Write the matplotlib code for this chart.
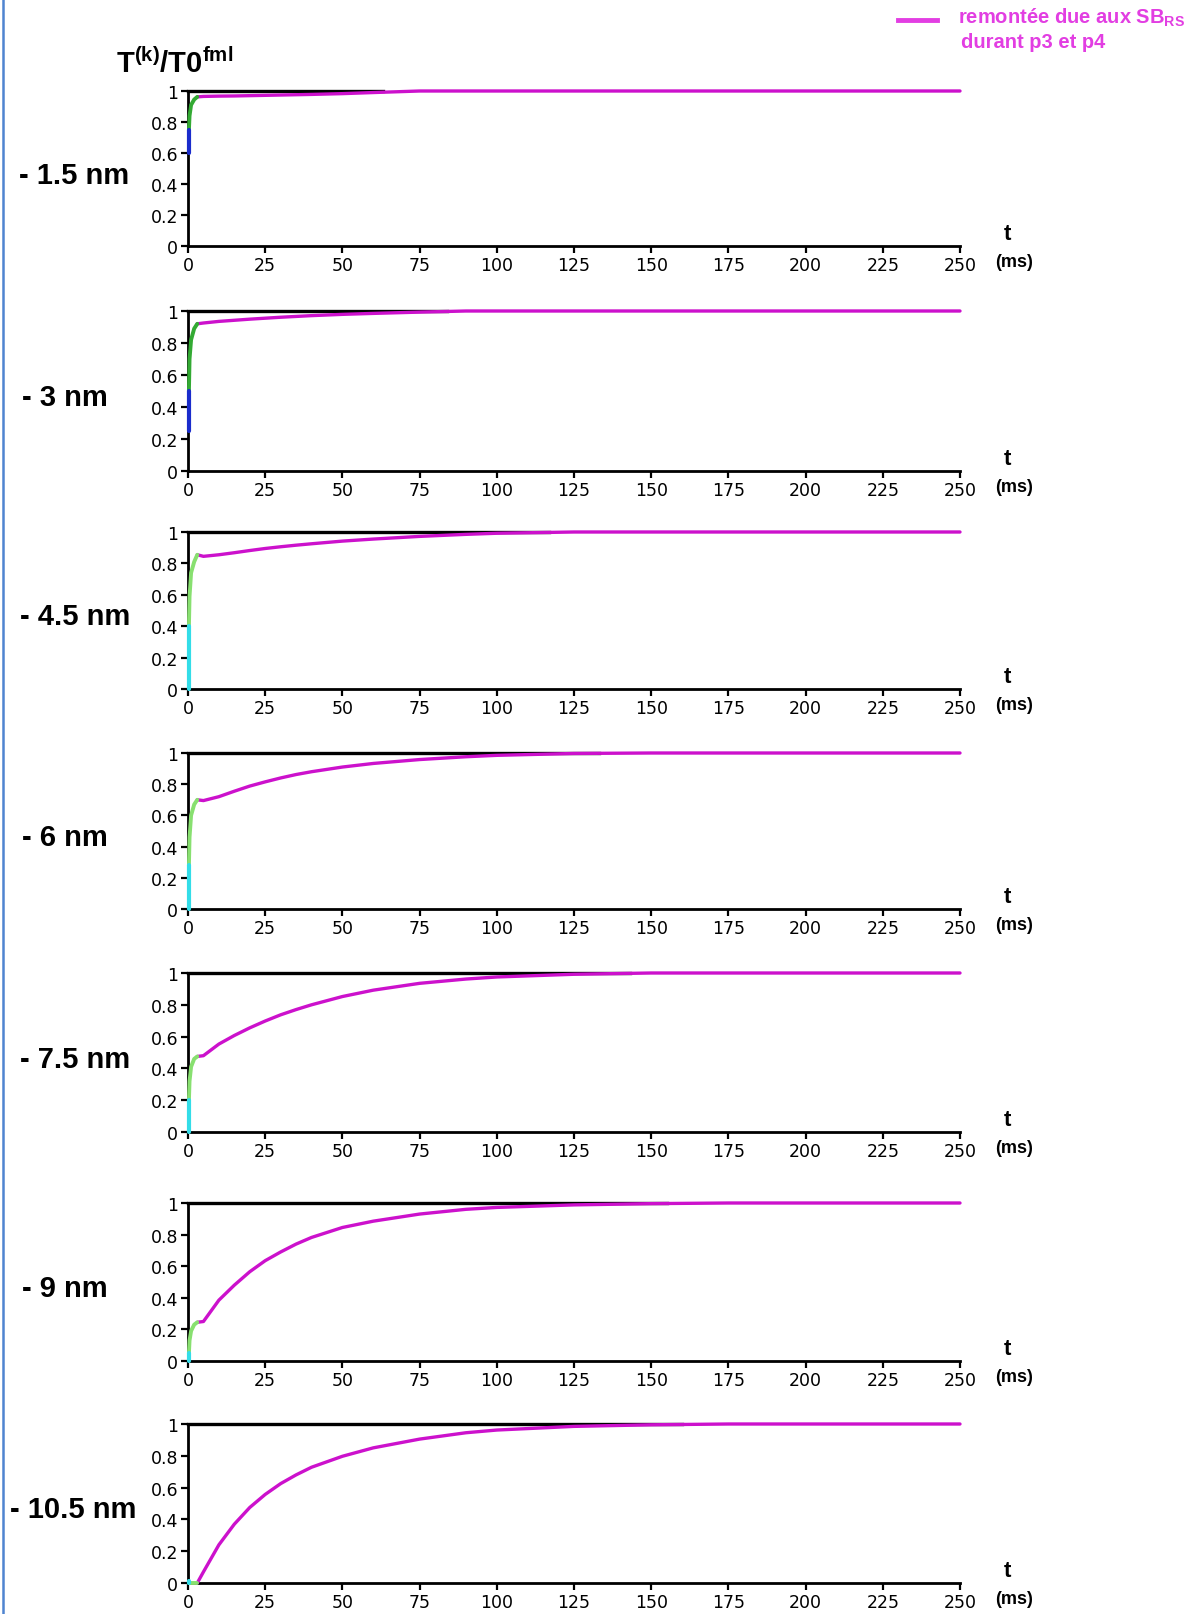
import matplotlib
matplotlib.use("Agg")
import matplotlib.pyplot as plt
from matplotlib.lines import Line2D

plt.rcParams['mathtext.fontset'] = 'custom'
plt.rcParams['mathtext.rm'] = 'Liberation Sans'
plt.rcParams['mathtext.bf'] = 'Liberation Sans:bold'

# panel labels (depth)
labels = ['- 1.5 nm', '- 3 nm', '- 4.5 nm', '- 6 nm', '- 7.5 nm', '- 9 nm', '- 10.5 nm']

# first (vertical) segment at t ~ 0 : bottom / top values
t_first = [0.3, 0.3]
first_lo = [0.60, 0.25, 0.0, 0.0, 0.0, 0.0, 0.0]
first_hi = [0.75, 0.50, 0.40, 0.28, 0.20, 0.05, 0.01]
first_col = ['#1a2ccc', '#1a2ccc', '#33dde8', '#33dde8', '#33dde8', '#33dde8', '#33dde8']

# green fast rise
t_green = [0.3, 0.5, 1.0, 2.0, 3.0]
green_vals = [
    [0.75, 0.84, 0.91, 0.945, 0.962],
    [0.50, 0.70, 0.82, 0.89, 0.92],
    [0.40, 0.59, 0.74, 0.81, 0.855],
    [0.28, 0.46, 0.60, 0.67, 0.70],
    [0.20, 0.32, 0.41, 0.46, 0.475],
    [0.05, 0.13, 0.19, 0.23, 0.245],
    [0.0, 0.0, 0.0, 0.0, 0.0],
]
green_col = ['#33aa33', '#33aa33', '#88e070', '#88e070', '#88e070', '#88e070', '#88e070']

# magenta recovery (remontee due aux SB_RS)
t_mag = [3, 5, 10, 15, 20, 25, 30, 35, 40, 50, 60, 75, 90, 100, 125, 150, 175, 250]
mag_vals = [
    [0.962, 0.965, 0.967, 0.968, 0.97, 0.972, 0.974, 0.976, 0.978, 0.983, 0.99, 1, 1, 1, 1, 1, 1, 1],
    [0.92, 0.925, 0.935, 0.942, 0.949, 0.955, 0.961, 0.966, 0.971, 0.979, 0.985, 0.993, 1, 1, 1, 1, 1, 1],
    [0.855, 0.845, 0.855, 0.868, 0.882, 0.895, 0.906, 0.916, 0.925, 0.942, 0.955, 0.972, 0.985, 0.992, 1, 1, 1, 1],
    [0.70, 0.695, 0.72, 0.755, 0.788, 0.815, 0.84, 0.862, 0.88, 0.91, 0.933, 0.958, 0.976, 0.985, 0.997, 1, 1, 1],
    [0.475, 0.48, 0.553, 0.607, 0.655, 0.698, 0.737, 0.77, 0.80, 0.852, 0.892, 0.935, 0.962, 0.975, 0.992, 1, 1, 1],
    [0.245, 0.25, 0.385, 0.48, 0.565, 0.635, 0.69, 0.74, 0.782, 0.845, 0.885, 0.93, 0.96, 0.972, 0.988, 0.996, 1, 1],
    [0.0, 0.07, 0.24, 0.37, 0.475, 0.557, 0.625, 0.68, 0.728, 0.797, 0.85, 0.905, 0.945, 0.962, 0.985, 0.995, 1, 1],
]
# black reference line at 1, visible up to
black_end = [63, 84, 117, 133, 143, 155, 160]

xticks = [0, 25, 50, 75, 100, 125, 150, 175, 200, 225, 250]
yticks = [0, 0.2, 0.4, 0.6, 0.8, 1]
ytick_labels = ['0', '0.2', '0.4', '0.6', '0.8', '1']

MAG = '#cc11cc'
W, H = 1204, 1615
fig = plt.figure(figsize=(W / 100, H / 100), dpi=100)

# pixel boxes of each panel (top, bottom) and label x
boxes = [(92, 247), (312, 472), (533, 690), (754, 910), (974, 1133), (1204, 1362), (1425, 1584)]
label_x = [19, 22, 20, 22, 20, 22, 10]
x0, x1 = 188, 960
tick_font = 'DejaVu Sans'

for i, (top, bot) in enumerate(boxes):
    ax = fig.add_axes([x0 / W, 1 - bot / H, (x1 - x0) / W, (bot - top) / H])
    ax.set_xlim(0, 250)
    ax.set_ylim(0, 1)
    for s in ['top', 'right']:
        ax.spines[s].set_visible(False)
    for s in ['left', 'bottom']:
        ax.spines[s].set_linewidth(2.0)
    ax.set_xticks(xticks)
    ax.set_xticklabels([str(v) for v in xticks], fontfamily=tick_font, fontsize=12.5)
    ax.set_yticks(yticks)
    ax.set_yticklabels(ytick_labels, fontfamily=tick_font, fontsize=12.5)
    ax.tick_params(axis='both', direction='out', length=5, width=1.6, pad=2)

    ax.plot([0, black_end[i]], [1, 1], color='black', lw=2.4, clip_on=False, zorder=2)
    ax.plot(t_mag, mag_vals[i], color=MAG, lw=2.4, clip_on=False, zorder=3,
            solid_capstyle='round', solid_joinstyle='round')
    ax.plot(t_green, green_vals[i], color=green_col[i], lw=2.8, clip_on=False, zorder=4,
            solid_capstyle='round')
    ax.plot(t_first, [first_lo[i], first_hi[i]], color=first_col[i], lw=3.0, clip_on=False,
            zorder=5, solid_capstyle='round')

    # axis unit labels
    ax.text(1.062, 0.08, 't', transform=ax.transAxes, fontsize=16, fontweight='bold',
            fontfamily='Liberation Sans', ha='center', va='center')
    ax.text(1.07, -0.1, '(ms)', transform=ax.transAxes, fontsize=13, fontweight='bold',
            fontfamily='Liberation Sans', ha='center', va='center')

    # depth label
    fig.text(label_x[i] / W, 1 - ((top + bot) / 2 + 6) / H, labels[i], fontsize=21,
             fontweight='bold', fontfamily='Liberation Sans', ha='left', va='center')

# y axis title
fig.text(116 / W, 1 - 64 / H, r'$\mathbf{T}^{\mathbf{(k)}}\mathbf{/T0}^{\mathbf{fml}}$',
         fontsize=21, ha='left', va='center')

# legend
fig.add_artist(Line2D([898 / W, 937 / W], [1 - 21 / H, 1 - 21 / H], color='#e23ee2', lw=3.5))
fig.text(958 / W, 1 - 18 / H, r'remontée due aux SB$_{\mathbf{RS}}$', color='#e23ee2',
         fontsize=14.5, fontweight='bold', fontfamily='Liberation Sans', ha='left', va='center')
fig.text(961 / W, 1 - 42 / H, 'durant p3 et p4', color='#e23ee2',
         fontsize=14.5, fontweight='bold', fontfamily='Liberation Sans', ha='left', va='center')

# left border line
fig.add_artist(Line2D([3 / W, 3 / W], [0, 1], color='#4f84d0', lw=1.8))

fig.savefig('out.png', dpi=100)
